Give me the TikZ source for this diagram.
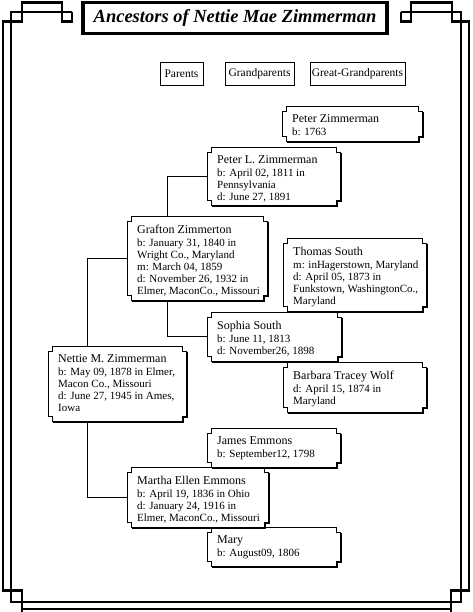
\documentclass[tikz,border=0pt]{standalone}
\usepackage{fontspec}
\setmainfont{Liberation Serif}
\usetikzlibrary{calc}

% name line of a card, a little larger than the facts
\newcommand\who[1]{{\fontsize{12}{13}\selectfont #1}\\[1pt]}
% card: name, x, y, width, height, text
\newcommand\famcard[6]{%
  \node[card, minimum width=#4, minimum height=#5] (#1) at (#2,#3) {};
  \node[facts] (#1-txt) at ([shift={(10,8.5)}]#1.north west) {#6};
  \draw[cardline] ($(#1.north west)+(0,5)$) -- ++(4,0) -- ++(0,-5)
    -- ($(#1.north east)+(-4,0)$) -- ++(0,5) -- ++(4,0)
    -- ($(#1.south east)+(0,-5)$) -- ++(-4,0) -- ++(0,5)
    -- ($(#1.south west)+(4,0)$) -- ++(0,-5) -- ++(-4,0) -- cycle;
  \draw[cardline] ($(#1.north east)+(0.9,5.9)$) -- ($(#1.south east)+(0.9,-4.1)$)
    -- ($(#1.south east)+(-3.1,-4.1)$) -- ($(#1.south east)+(-3.1,0.9)$)
    -- ($(#1.south west)+(4.9,0.9)$);
}

\begin{document}
\begin{tikzpicture}[x=1pt, y=-1pt,
    frameline/.style={line width=2.6pt},
    card/.style={anchor=north west, inner sep=0pt},
    facts/.style={anchor=north west, align=left, inner sep=0pt, font=\fontsize{11}{12}\selectfont},
    cardline/.style={line width=0.9pt},
    heading/.style={draw, line width=0.9pt, inner sep=0pt, minimum height=23, font=\fontsize{11.5}{12}\selectfont},
    link/.style={line width=0.9pt}]
  \useasboundingbox (0,0) rectangle (472,612);

  % double frame with the corner pieces
  \draw[frameline] (72,12) -- (72,21.5) -- (62,21.5) -- (62,2.5) -- (22,2.5) -- (22,21.5)
    -- (3,21.5) -- (3,590.5) -- (22,590.5) -- (22,614);
  \draw[frameline] (22,609) -- (451,609);
  \draw[frameline] (451,614) -- (451,590.5) -- (469,590.5) -- (469,21.5) -- (452,21.5)
    -- (452,2.5) -- (411,2.5) -- (411,21.5) -- (401,21.5) -- (401,12);
  \draw[frameline] (72,12) -- (11,12) -- (11,602) -- (461,602) -- (461,12) -- (401,12);

  \node[draw, line width=3.5pt, minimum width=304, minimum height=31, inner sep=0pt,
    font=\fontsize{18.5}{20}\selectfont\bfseries\itshape] (title) at (235,17.8) {Ancestors of Nettie Mae Zimmerman};

  \node[heading, minimum width=43] (hdparents) at (181.5,73.5) {Parents};
  \node[heading, minimum width=69] (hdgrand) at (259.5,73.5) {Grandparents};
  \node[heading, minimum width=95] (hdgreat) at (357.5,73.5) {Great-Grandparents};

  \famcard{peterz}{282}{106}{140}{35}{\who{Peter Zimmerman}b: 1763}
  \famcard{peterl}{207}{147}{133}{58}{\who{Peter L. Zimmerman}b: April 02, 1811 in\\Pennsylvania\\d: June 27, 1891}
  \famcard{grafton}{127}{216}{140}{84}{\who{Grafton Zimmerton}b: January 31, 1840 in\\Wright Co., Maryland\\m: March 04, 1859\\d: November 26, 1932 in\\Elmer, MaconCo., Missouri}
  \famcard{thomas}{283}{238}{143}{73}{\who{Thomas South}m: inHagerstown, Maryland\\d: April 05, 1873 in\\Funkstown, WashingtonCo.,\\Maryland}
  \famcard{sophia}{207}{312}{134}{49}{\who{Sophia South}b: June 11, 1813\\d: November26, 1898}
  \famcard{barbara}{283}{362}{143}{50}{\who{Barbara Tracey Wolf}d: April 15, 1874 in\\Maryland}
  \famcard{nettie}{48}{346}{138}{75}{\who{Nettie M. Zimmerman}b: May 09, 1878 in Elmer,\\Macon Co., Missouri\\d: June 27, 1945 in Ames,\\Iowa}
  \famcard{james}{207}{428}{133}{39}{\who{James Emmons}b: September12, 1798}
  \famcard{martha}{127}{467}{141}{60}{\who{Martha Ellen Emmons}b: April 19, 1836 in Ohio\\d: January 24, 1916 in\\Elmer, MaconCo., Missouri}
  \famcard{mary}{207}{527}{133}{39}{\who{Mary}b: August09, 1806}

  \draw[link] (peterl.west) -| ($(grafton.north west)+(40,0)$);
  \draw[link] ($(grafton.south west)+(40,0)$) |- (sophia.west);
  \draw[link] (grafton.west) -| ($(nettie.north west)+(39,0)$);
  \draw[link] ($(nettie.south west)+(39,0)$) |- (martha.west);
\end{tikzpicture}
\end{document}
